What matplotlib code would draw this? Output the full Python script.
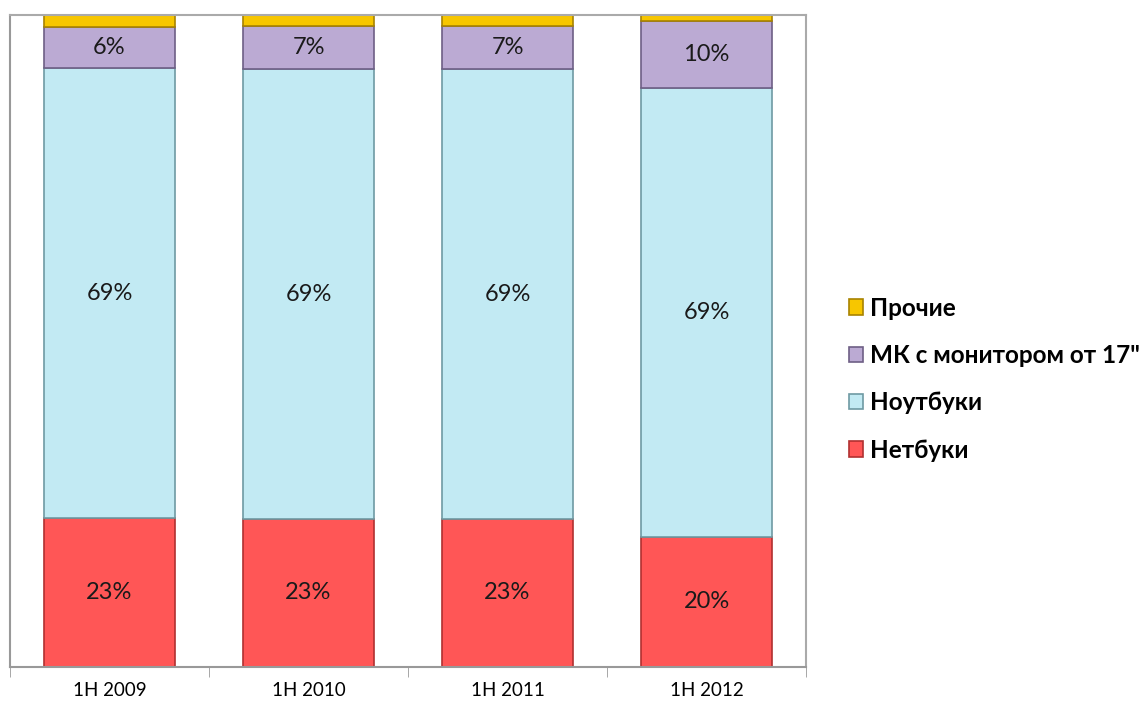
import numpy as np
import matplotlib
matplotlib.use("Agg")
import matplotlib.pyplot as plt
from matplotlib.ticker import FixedLocator

plt.rcParams['font.family'] = ['Lato', 'DejaVu Sans']

categories = ["1H 2009", "1H 2010", "1H 2011", "1H 2012"]
series_names = ["Нетбуки", "Ноутбуки", "МК с монитором от 17\"", "Прочие"]
netbooks = [22.8, 22.6, 22.6, 19.9]
notebooks = [69.0, 69.1, 69.0, 68.9]
mk_monitor = [6.3, 6.6, 6.6, 10.2]
others = [1.9, 1.7, 1.8, 1.0]

colors = ["#FF5656", "#C2EAF3", "#BBAAD3", "#F7C600"]
edges = ["#B03030", "#6E9AA3", "#6E5F85", "#A88300"]
show_label = [True, True, True, False]

fig = plt.figure(figsize=(11.41, 7.01), dpi=100)
ax = fig.add_axes([0.0088, 0.049, 0.6976, 0.930])

x = np.arange(len(categories))
bottom = np.zeros(len(categories))
for vals, name, c, ec, lab in zip([netbooks, notebooks, mk_monitor, others],
                                  series_names, colors, edges, show_label):
    vals = np.array(vals)
    b = ax.bar(x, vals, 0.66, bottom=bottom, color=c, edgecolor=ec,
               linewidth=1.2, label=name)
    if lab:
        ax.bar_label(b, labels=["{:.0f}%".format(v) for v in vals],
                     label_type='center', fontsize=17, color="#1a1a1a")
    bottom += vals

ax.set_xlim(-0.5, len(categories) - 0.5)
ax.set_ylim(0, bottom.max())
ax.set_yticks([])
ax.set_xticks(x)
ax.set_xticklabels(categories, fontsize=13.5)
ax.xaxis.set_minor_locator(FixedLocator(np.arange(len(categories) + 1) - 0.5))
ax.tick_params(axis='x', which='major', length=0, pad=11)
ax.tick_params(axis='x', which='minor', length=7, color="#999999")

for s in ax.spines.values():
    s.set_color("#aaaaaa")
    s.set_linewidth(1.5)
ax.spines['left'].set_color("#999999")
ax.spines['bottom'].set_color("#999999")

handles, labels = ax.get_legend_handles_labels()
ax.legend(handles[::-1], labels[::-1], loc='center left',
          bbox_to_anchor=(1.026, 0.441), frameon=False,
          prop={'size': 17.5, 'weight': 'bold'},
          handlelength=0.6, handleheight=0.6, handletextpad=0.3,
          labelspacing=1.0)

fig.savefig("out.png", dpi=100)
